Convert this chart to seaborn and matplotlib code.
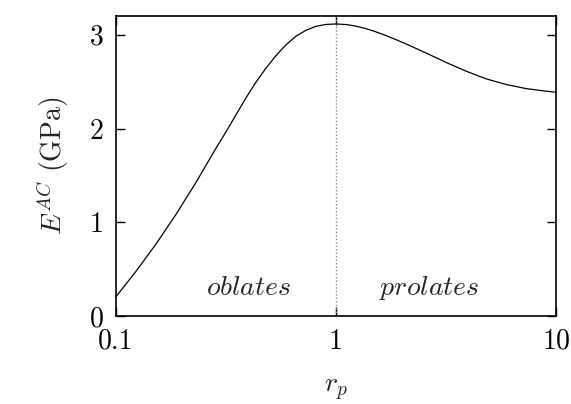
import matplotlib
matplotlib.use("Agg")
import matplotlib.pyplot as plt
import seaborn as sns
import pandas as pd

# Aspect ratio of the inclusions and the corresponding modulus
rp = [0.1000, 0.1233, 0.1520, 0.1874, 0.2310, 0.2848, 0.3162, 0.3511, 0.3899,
      0.4329, 0.4806, 0.5337, 0.5926, 0.6579, 0.7305, 0.8111, 0.9006, 1.0000,
      1.1103, 1.2328, 1.3689, 1.5199, 1.6876, 1.8738, 2.0806, 2.3101, 2.5650,
      3.1623, 3.8986, 4.8064, 5.9255, 7.3053, 9.0063, 10.000]
e_ac = [0.206, 0.477, 0.768, 1.084, 1.425, 1.790, 1.964, 2.146, 2.327,
        2.495, 2.644, 2.778, 2.893, 2.984, 3.048, 3.090, 3.110, 3.115,
        3.109, 3.092, 3.065, 3.031, 2.991, 2.948, 2.902, 2.854, 2.806,
        2.705, 2.612, 2.530, 2.470, 2.426, 2.398, 2.387]

x_ticks = [0.1, 1, 10]
x_tick_labels = ["0.1", "1", "10"]
y_ticks = [0, 1, 2, 3]
y_tick_labels = ["0", "1", "2", "3"]

sns.set_theme(style="ticks")
plt.rcParams.update({
    "font.family": "cmr10",
    "mathtext.fontset": "cm",
    "axes.unicode_minus": False,
    "axes.formatter.use_mathtext": True,
    "font.size": 20,
})

df = pd.DataFrame({"rp": rp, "E": e_ac})

fig = plt.figure(figsize=(5.71, 4.04), dpi=100)
ax = fig.add_axes([116 / 571, 1 - 316 / 404, 440 / 571, 300 / 404])

ax.axvline(1.0, color="#8a8a8a", lw=1.0, ls=(0, (1, 1.5)), zorder=1)
sns.lineplot(data=df, x="rp", y="E", ax=ax, color="black", lw=0.9, zorder=3)

ax.set_xscale("log")
ax.set_xlim(0.1, 10)
ax.set_ylim(0, 3.2)
ax.set_xticks(x_ticks)
ax.set_xticklabels(x_tick_labels)
ax.set_yticks(y_ticks)
ax.set_yticklabels(y_tick_labels)
ax.minorticks_off()

ax.tick_params(axis="both", which="major", direction="in", length=6.5, width=1.0,
               top=True, right=True, labelsize=20, color="black", labelcolor="black")
ax.tick_params(axis="x", pad=9)
ax.tick_params(axis="y", pad=9)
for s in ax.spines.values():
    s.set_linewidth(1.2)
    s.set_color("black")

ax.set_xlabel(r"$r_p$", fontsize=20, labelpad=16)
ax.set_ylabel(r"$E^{AC}$ (GPa)", fontsize=20, labelpad=13)

ax.text(0.40, 0.22, r"$oblates$", ha="center", va="baseline", fontsize=20)
ax.text(2.65, 0.22, r"$prolates$", ha="center", va="baseline", fontsize=20)

fig.savefig("out.png", dpi=100, facecolor="white")
